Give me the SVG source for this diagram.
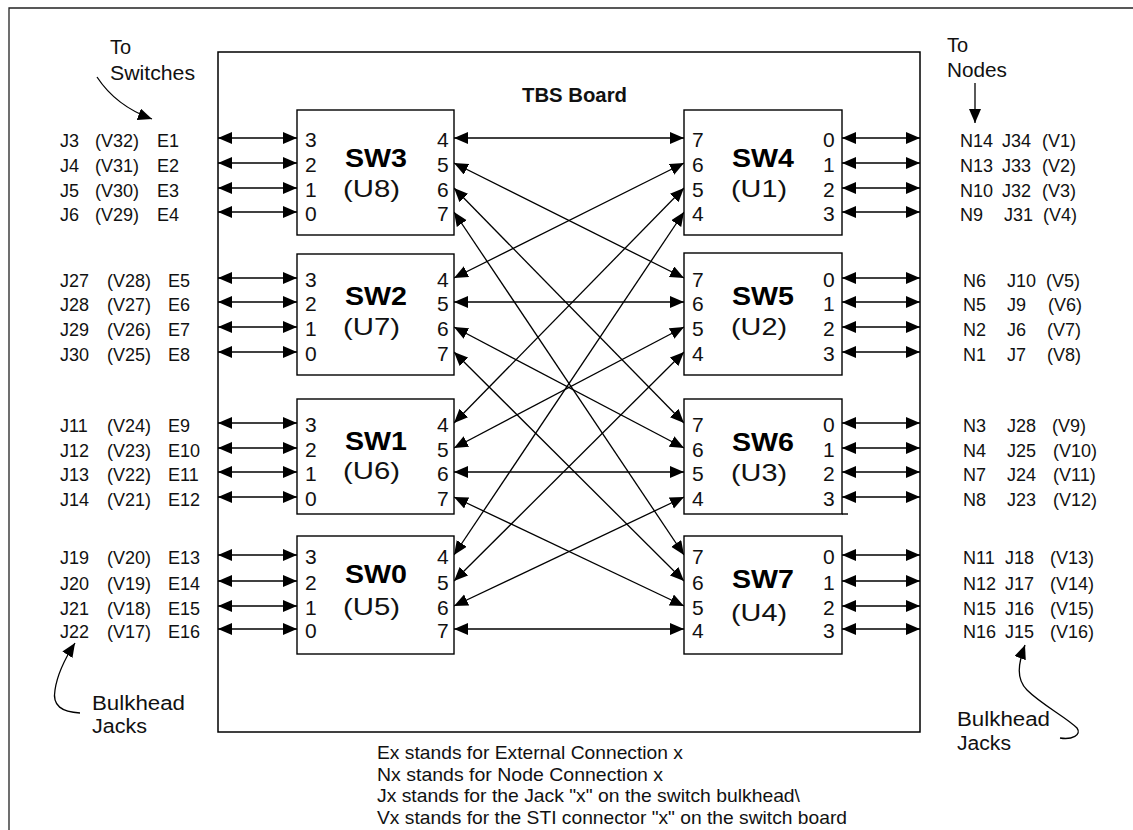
<svg xmlns="http://www.w3.org/2000/svg" width="1133" height="830" viewBox="0 0 1133 830">
<defs>
<marker id="ah" markerUnits="userSpaceOnUse" markerWidth="15" markerHeight="13" refX="14" refY="6" orient="auto-start-reverse"><path d="M0,0 L14,6 L0,12 z" fill="#000"/></marker>
</defs>
<style>
.t{font-family:"Liberation Sans",Arial,sans-serif;font-size:18px;fill:#111}
.p{font-family:"Liberation Sans",Arial,sans-serif;font-size:21px;fill:#111}
.a{font-family:"Liberation Sans",Arial,sans-serif;font-size:20px;fill:#111}
.n{font-family:"Liberation Sans",Arial,sans-serif;font-size:19px;fill:#111}
.b{font-family:"Liberation Sans",Arial,sans-serif;font-size:25px;font-weight:bold;fill:#000}
.u{font-family:"Liberation Sans",Arial,sans-serif;font-size:24px;fill:#111}
.box{fill:#fff;stroke:#000;stroke-width:1.4}
.c{stroke:#000;stroke-width:1.3;fill:none;marker-start:url(#ah);marker-end:url(#ah)}
.e{stroke:#000;stroke-width:1.3;fill:none;marker-end:url(#ah)}
</style>
<rect width="1133" height="830" fill="#fff"/>
<path d="M9,830 V8 H1133" fill="none" stroke="#222" stroke-width="1.3"/>
<g id="board">
<rect x="218" y="52" width="702" height="680" fill="none" stroke="#000" stroke-width="1.5"/>
<text class="a" x="522" y="102" font-weight="bold" textLength="105" lengthAdjust="spacingAndGlyphs">TBS Board</text>
</g>
<g id="connectors">
<line class="c" x1="218" y1="138" x2="297" y2="138"/><line class="c" x1="218" y1="163" x2="297" y2="163"/><line class="c" x1="218" y1="188" x2="297" y2="188"/><line class="c" x1="218" y1="212" x2="297" y2="212"/>
<line class="c" x1="218" y1="278" x2="297" y2="278"/><line class="c" x1="218" y1="302" x2="297" y2="302"/><line class="c" x1="218" y1="327" x2="297" y2="327"/><line class="c" x1="218" y1="352" x2="297" y2="352"/>
<line class="c" x1="218" y1="423" x2="297" y2="423"/><line class="c" x1="218" y1="448" x2="297" y2="448"/><line class="c" x1="218" y1="472" x2="297" y2="472"/><line class="c" x1="218" y1="497" x2="297" y2="497"/>
<line class="c" x1="218" y1="555" x2="297" y2="555"/><line class="c" x1="218" y1="581" x2="297" y2="581"/><line class="c" x1="218" y1="606" x2="297" y2="606"/><line class="c" x1="218" y1="629" x2="297" y2="629"/>
<line class="c" x1="842" y1="138" x2="920" y2="138"/><line class="c" x1="842" y1="163" x2="920" y2="163"/><line class="c" x1="842" y1="188" x2="920" y2="188"/><line class="c" x1="842" y1="212" x2="920" y2="212"/>
<line class="c" x1="842" y1="278" x2="920" y2="278"/><line class="c" x1="842" y1="302" x2="920" y2="302"/><line class="c" x1="842" y1="327" x2="920" y2="327"/><line class="c" x1="842" y1="352" x2="920" y2="352"/>
<line class="c" x1="842" y1="423" x2="920" y2="423"/><line class="c" x1="842" y1="448" x2="920" y2="448"/><line class="c" x1="842" y1="472" x2="920" y2="472"/><line class="c" x1="842" y1="497" x2="920" y2="497"/>
<line class="c" x1="842" y1="555" x2="920" y2="555"/><line class="c" x1="842" y1="581" x2="920" y2="581"/><line class="c" x1="842" y1="606" x2="920" y2="606"/><line class="c" x1="842" y1="629" x2="920" y2="629"/>
<line class="c" x1="454" y1="138" x2="684" y2="138"/>
<line class="c" x1="454" y1="163" x2="684" y2="278"/>
<line class="c" x1="454" y1="188" x2="684" y2="423"/>
<line class="c" x1="454" y1="212" x2="684" y2="555"/>
<line class="c" x1="454" y1="278" x2="684" y2="163"/>
<line class="c" x1="454" y1="302" x2="684" y2="302"/>
<line class="c" x1="454" y1="327" x2="684" y2="448"/>
<line class="c" x1="454" y1="352" x2="684" y2="581"/>
<line class="c" x1="454" y1="423" x2="684" y2="188"/>
<line class="c" x1="454" y1="448" x2="684" y2="327"/>
<line class="c" x1="454" y1="472" x2="684" y2="472"/>
<line class="c" x1="454" y1="497" x2="684" y2="606"/>
<line class="c" x1="454" y1="555" x2="684" y2="212"/>
<line class="c" x1="454" y1="581" x2="684" y2="352"/>
<line class="c" x1="454" y1="606" x2="684" y2="497"/>
<line class="c" x1="454" y1="629" x2="684" y2="629"/>
<path class="e" d="M97,77 Q116,106 152,119"/>
<line class="e" x1="975" y1="83" x2="975" y2="123"/>
<path class="e" d="M80,713 C62,712 52,706 55,690 C57,676 64,660 75,643"/>
<path class="e" d="M1060,738 C1072,740 1082,735 1077,728 C1066,717 1042,705 1027,690 C1016,679 1018,664 1025,645"/>
</g>
<g id="sw3"><rect class="box" x="297" y="110" width="157" height="125"/>
<text class="b" x="345" y="167" textLength="62" lengthAdjust="spacingAndGlyphs">SW3</text><text class="u" x="343" y="197" textLength="57" lengthAdjust="spacingAndGlyphs">(U8)</text>
<text class="p" x="305" y="146.5">3</text><text class="p" x="305" y="171.5">2</text><text class="p" x="305" y="196.5">1</text><text class="p" x="305" y="220.5">0</text>
<text class="p" x="437" y="146.5">4</text><text class="p" x="437" y="171.5">5</text><text class="p" x="437" y="196.5">6</text><text class="p" x="437" y="220.5">7</text></g>
<g id="sw2"><rect class="box" x="297" y="254" width="157" height="121"/>
<text class="b" x="345" y="305" textLength="62" lengthAdjust="spacingAndGlyphs">SW2</text><text class="u" x="343" y="335" textLength="57" lengthAdjust="spacingAndGlyphs">(U7)</text>
<text class="p" x="305" y="286.5">3</text><text class="p" x="305" y="310.5">2</text><text class="p" x="305" y="335.5">1</text><text class="p" x="305" y="360.5">0</text>
<text class="p" x="437" y="286.5">4</text><text class="p" x="437" y="310.5">5</text><text class="p" x="437" y="335.5">6</text><text class="p" x="437" y="360.5">7</text></g>
<g id="sw1"><rect class="box" x="297" y="399" width="157" height="115"/>
<text class="b" x="345" y="450" textLength="62" lengthAdjust="spacingAndGlyphs">SW1</text><text class="u" x="343" y="479" textLength="57" lengthAdjust="spacingAndGlyphs">(U6)</text>
<text class="p" x="305" y="431.5">3</text><text class="p" x="305" y="456.5">2</text><text class="p" x="305" y="480.5">1</text><text class="p" x="305" y="505.5">0</text>
<text class="p" x="437" y="431.5">4</text><text class="p" x="437" y="456.5">5</text><text class="p" x="437" y="480.5">6</text><text class="p" x="437" y="505.5">7</text></g>
<g id="sw0"><rect class="box" x="297" y="536" width="157" height="118"/>
<text class="b" x="345" y="583" textLength="62" lengthAdjust="spacingAndGlyphs">SW0</text><text class="u" x="343" y="615" textLength="57" lengthAdjust="spacingAndGlyphs">(U5)</text>
<text class="p" x="305" y="563.5">3</text><text class="p" x="305" y="589.5">2</text><text class="p" x="305" y="614.5">1</text><text class="p" x="305" y="637.5">0</text>
<text class="p" x="437" y="563.5">4</text><text class="p" x="437" y="589.5">5</text><text class="p" x="437" y="614.5">6</text><text class="p" x="437" y="637.5">7</text></g>
<g id="sw4"><rect class="box" x="684" y="110" width="158" height="125"/>
<text class="b" x="732" y="167" textLength="62" lengthAdjust="spacingAndGlyphs">SW4</text><text class="u" x="731" y="197" textLength="56" lengthAdjust="spacingAndGlyphs">(U1)</text>
<text class="p" x="692" y="146.5">7</text><text class="p" x="692" y="171.5">6</text><text class="p" x="692" y="196.5">5</text><text class="p" x="692" y="220.5">4</text>
<text class="p" x="823" y="146.5">0</text><text class="p" x="823" y="171.5">1</text><text class="p" x="823" y="196.5">2</text><text class="p" x="823" y="220.5">3</text></g>
<g id="sw5"><rect class="box" x="684" y="253" width="158" height="122"/>
<text class="b" x="732" y="305" textLength="62" lengthAdjust="spacingAndGlyphs">SW5</text><text class="u" x="731" y="335" textLength="56" lengthAdjust="spacingAndGlyphs">(U2)</text>
<text class="p" x="692" y="286.5">7</text><text class="p" x="692" y="310.5">6</text><text class="p" x="692" y="335.5">5</text><text class="p" x="692" y="360.5">4</text>
<text class="p" x="823" y="286.5">0</text><text class="p" x="823" y="310.5">1</text><text class="p" x="823" y="335.5">2</text><text class="p" x="823" y="360.5">3</text></g>
<g id="sw6"><rect class="box" x="684" y="399" width="158" height="115"/><line x1="842" y1="514" x2="848" y2="514" stroke="#000" stroke-width="1.4"/>
<text class="b" x="732" y="451" textLength="62" lengthAdjust="spacingAndGlyphs">SW6</text><text class="u" x="731" y="481" textLength="56" lengthAdjust="spacingAndGlyphs">(U3)</text>
<text class="p" x="692" y="431.5">7</text><text class="p" x="692" y="456.5">6</text><text class="p" x="692" y="480.5">5</text><text class="p" x="692" y="505.5">4</text>
<text class="p" x="823" y="431.5">0</text><text class="p" x="823" y="456.5">1</text><text class="p" x="823" y="480.5">2</text><text class="p" x="823" y="505.5">3</text></g>
<g id="sw7"><rect class="box" x="684" y="536" width="158" height="118"/>
<text class="b" x="732" y="588" textLength="62" lengthAdjust="spacingAndGlyphs">SW7</text><text class="u" x="731" y="621" textLength="56" lengthAdjust="spacingAndGlyphs">(U4)</text>
<text class="p" x="692" y="563.5">7</text><text class="p" x="692" y="589.5">6</text><text class="p" x="692" y="614.5">5</text><text class="p" x="692" y="637.5">4</text>
<text class="p" x="823" y="563.5">0</text><text class="p" x="823" y="589.5">1</text><text class="p" x="823" y="614.5">2</text><text class="p" x="823" y="637.5">3</text></g>
<g id="left-labels">
<text class="t" y="146.5"><tspan x="60">J3</tspan><tspan x="95">(V32)</tspan><tspan x="157">E1</tspan></text>
<text class="t" y="171.5"><tspan x="60">J4</tspan><tspan x="95">(V31)</tspan><tspan x="157">E2</tspan></text>
<text class="t" y="196.5"><tspan x="60">J5</tspan><tspan x="95">(V30)</tspan><tspan x="157">E3</tspan></text>
<text class="t" y="220.5"><tspan x="60">J6</tspan><tspan x="95">(V29)</tspan><tspan x="157">E4</tspan></text>
<text class="t" y="286.5"><tspan x="60">J27</tspan><tspan x="107">(V28)</tspan><tspan x="168">E5</tspan></text>
<text class="t" y="310.5"><tspan x="60">J28</tspan><tspan x="107">(V27)</tspan><tspan x="168">E6</tspan></text>
<text class="t" y="335.5"><tspan x="60">J29</tspan><tspan x="107">(V26)</tspan><tspan x="168">E7</tspan></text>
<text class="t" y="360.5"><tspan x="60">J30</tspan><tspan x="107">(V25)</tspan><tspan x="168">E8</tspan></text>
<text class="t" y="431.5"><tspan x="60">J11</tspan><tspan x="107">(V24)</tspan><tspan x="168">E9</tspan></text>
<text class="t" y="456.5"><tspan x="60">J12</tspan><tspan x="107">(V23)</tspan><tspan x="168">E10</tspan></text>
<text class="t" y="480.5"><tspan x="60">J13</tspan><tspan x="107">(V22)</tspan><tspan x="168">E11</tspan></text>
<text class="t" y="505.5"><tspan x="60">J14</tspan><tspan x="107">(V21)</tspan><tspan x="168">E12</tspan></text>
<text class="t" y="563.5"><tspan x="60">J19</tspan><tspan x="107">(V20)</tspan><tspan x="168">E13</tspan></text>
<text class="t" y="589.5"><tspan x="60">J20</tspan><tspan x="107">(V19)</tspan><tspan x="168">E14</tspan></text>
<text class="t" y="614.5"><tspan x="60">J21</tspan><tspan x="107">(V18)</tspan><tspan x="168">E15</tspan></text>
<text class="t" y="637.5"><tspan x="60">J22</tspan><tspan x="107">(V17)</tspan><tspan x="168">E16</tspan></text>
</g>
<g id="right-labels">
<text class="t" y="146.5"><tspan x="960">N14</tspan><tspan x="1002">J34</tspan><tspan x="1042">(V1)</tspan></text>
<text class="t" y="171.5"><tspan x="960">N13</tspan><tspan x="1002">J33</tspan><tspan x="1042">(V2)</tspan></text>
<text class="t" y="196.5"><tspan x="960">N10</tspan><tspan x="1002">J32</tspan><tspan x="1042">(V3)</tspan></text>
<text class="t" y="220.5"><tspan x="960">N9</tspan><tspan x="1004">J31</tspan><tspan x="1043">(V4)</tspan></text>
<text class="t" y="286.5"><tspan x="963">N6</tspan><tspan x="1007">J10</tspan><tspan x="1046">(V5)</tspan></text>
<text class="t" y="310.5"><tspan x="963">N5</tspan><tspan x="1007">J9</tspan><tspan x="1048">(V6)</tspan></text>
<text class="t" y="335.5"><tspan x="963">N2</tspan><tspan x="1007">J6</tspan><tspan x="1047">(V7)</tspan></text>
<text class="t" y="360.5"><tspan x="963">N1</tspan><tspan x="1007">J7</tspan><tspan x="1047">(V8)</tspan></text>
<text class="t" y="431.5"><tspan x="963">N3</tspan><tspan x="1007">J28</tspan><tspan x="1052">(V9)</tspan></text>
<text class="t" y="456.5"><tspan x="963">N4</tspan><tspan x="1007">J25</tspan><tspan x="1053">(V10)</tspan></text>
<text class="t" y="480.5"><tspan x="963">N7</tspan><tspan x="1007">J24</tspan><tspan x="1053">(V11)</tspan></text>
<text class="t" y="505.5"><tspan x="963">N8</tspan><tspan x="1007">J23</tspan><tspan x="1053">(V12)</tspan></text>
<text class="t" y="563.5"><tspan x="963">N11</tspan><tspan x="1005">J18</tspan><tspan x="1050">(V13)</tspan></text>
<text class="t" y="589.5"><tspan x="963">N12</tspan><tspan x="1005">J17</tspan><tspan x="1050">(V14)</tspan></text>
<text class="t" y="614.5"><tspan x="963">N15</tspan><tspan x="1005">J16</tspan><tspan x="1050">(V15)</tspan></text>
<text class="t" y="637.5"><tspan x="963">N16</tspan><tspan x="1005">J15</tspan><tspan x="1050">(V16)</tspan></text>
</g>
<g id="annotations">
<text class="a" x="110" y="54">To</text>
<text class="a" x="110" y="80" textLength="85" lengthAdjust="spacingAndGlyphs">Switches</text>
<text class="a" x="947" y="52">To</text>
<text class="a" x="947" y="77" textLength="60" lengthAdjust="spacingAndGlyphs">Nodes</text>
<text class="a" x="92" y="710" textLength="93" lengthAdjust="spacingAndGlyphs">Bulkhead</text>
<text class="a" x="92" y="733" textLength="55" lengthAdjust="spacingAndGlyphs">Jacks</text>
<text class="a" x="957" y="726" textLength="93" lengthAdjust="spacingAndGlyphs">Bulkhead</text>
<text class="a" x="957" y="750" textLength="54" lengthAdjust="spacingAndGlyphs">Jacks</text>
</g>
<g id="legend">
<text class="n" x="377" y="759" textLength="306" lengthAdjust="spacingAndGlyphs">Ex stands for External Connection x</text>
<text class="n" x="377" y="781" textLength="286" lengthAdjust="spacingAndGlyphs">Nx stands for Node Connection x</text>
<text class="n" x="377" y="802" textLength="423" lengthAdjust="spacingAndGlyphs">Jx stands for the Jack "x" on the switch bulkhead\</text>
<text class="n" x="377" y="824" textLength="470" lengthAdjust="spacingAndGlyphs">Vx stands for the STI connector "x" on the switch board</text>
</g>
</svg>
